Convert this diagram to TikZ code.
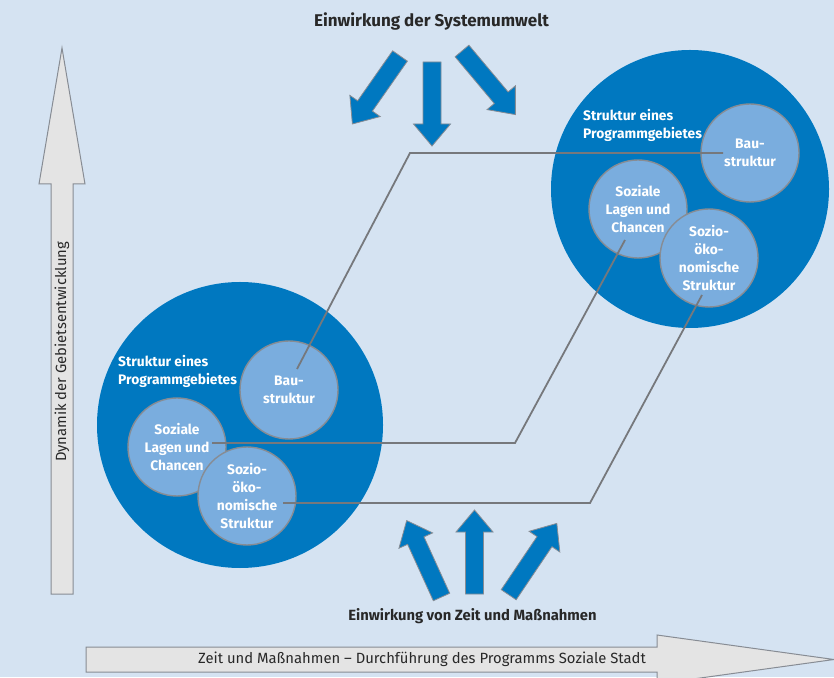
\documentclass[tikz,border=0pt]{standalone}
\usepackage{fontspec}
\setmainfont{Fira Sans}
\usepackage{tikz}
\usetikzlibrary{calc,positioning}
\definecolor{hintergrund}{RGB}{213,227,242}
\definecolor{dunkelblau}{RGB}{0,120,192}
\definecolor{hellblau}{RGB}{122,173,222}
\definecolor{rand}{RGB}{135,140,148}
\definecolor{linie}{RGB}{118,120,124}
\definecolor{grau}{RGB}{228,228,228}
\definecolor{schrift}{RGB}{40,40,40}
\tikzset{
  gebiet/.style={circle, fill=dunkelblau, inner sep=0pt},
  teil/.style={circle, fill=hellblau, draw=rand, line width=1.4pt, minimum size=98pt,
    inner sep=0pt, text=white, align=center, font=\fontsize{13.8}{18.3}\selectfont\bfseries},
  gebietstext/.style={text=white, align=left, inner sep=0pt, font=\fontsize{13.8}{18}\selectfont\bfseries},
  verbindung/.style={draw=linie, line width=1.8pt},
  pfeilblau/.style={fill=dunkelblau, draw=rand, line width=0.8pt},
  pfeilgrau/.style={fill=grau, draw=rand, line width=1pt},
  beschriftung/.style={text=schrift, inner sep=0pt, font=\fontsize{14.8}{16}\selectfont}
}
% blauer Wirkungspfeil: Ende, Winkel, Laenge
\newcommand{\wirkpfeil}[3]{%
  \begin{scope}[shift={(#1)}, rotate=#2]
    \draw[pfeilblau] (0,-9) -- ({#3-22},-9) -- ({#3-22},-18.5) -- (#3,0)
      -- ({#3-22},18.5) -- ({#3-22},9) -- (0,9) -- cycle;
  \end{scope}}
\begin{document}
\begin{tikzpicture}[x=1pt, y=1pt]
\useasboundingbox (0,0) rectangle (834,677);
\fill[hintergrund] (0,0) rectangle (834,677);
\clip (0,0) rectangle (834,677);

% Achsen
\draw[pfeilgrau] (51,83) -- (51,493) -- (39,493) -- (62,629) -- (85,493) -- (73,493) -- (73,83) -- cycle;
\draw[pfeilgrau] (86,5) -- (657,5) -- (657,-7) -- (834,17.5) -- (657,42) -- (657,30) -- (86,30) -- cycle;
\node[beschriftung, rotate=90] (dynamik) at (62,325) {Dynamik der Gebietsentwicklung};
\node[beschriftung] (zeitachse) at (422,17.5) {Zeit und Maßnahmen – Durchführung des Programms Soziale Stadt};

% Einwirkungen
\node[beschriftung, font=\fontsize{17}{18}\selectfont\bfseries] (umwelt) at (431.5,655) {Einwirkung der Systemumwelt};
\node[beschriftung, font=\fontsize{14.8}{16}\selectfont\bfseries] (massnahmen) at (472.5,61) {Einwirkung von Zeit und Maßnahmen};
\wirkpfeil{400,621}{235}{83}
\wirkpfeil{432,615}{270}{84}
\wirkpfeil{462,626}{-50}{83}
\wirkpfeil{441.5,80}{114.5}{84}
\wirkpfeil{474.5,83}{90}{84}
\wirkpfeil{508.7,82.3}{56}{86}

% Programmgebiet vorher
\node[gebiet, minimum size=286pt] (gebietA) at (240,252) {};
\node[gebietstext, anchor=west] (strukturA) at (118,306) {Struktur eines\\Programmgebietes};
\node[teil] (bauA) at (289,287) {Bau-\\struktur};
\node[teil] (lageA) at (177,230) {Soziale\\Lagen und\\Chancen};
\node[teil] (soziA) at (247,181) {Sozio-\\öko-\\nomische\\Struktur};

% Programmgebiet nachher
\node[gebiet, minimum size=278pt] (gebietB) at (690,488) {};
\node[gebietstext, anchor=west] (strukturB) at (583,551.5) {Struktur eines\\Programmgebietes};
\node[teil] (bauB) at (750,524) {Bau-\\struktur};
\node[teil] (lageB) at (638,468) {Soziale\\Lagen und\\Chancen};
\node[teil] (soziB) at (709,419) {Sozio-\\öko-\\nomische\\Struktur};

% Verbindungen
\coordinate (eckeBau) at (410,524);
\coordinate (eckeLage) at (515,234);
\coordinate (eckeSozi) at (590,174);
\draw[verbindung] ([shift={(8,21)}]bauA.center) -- (eckeBau) -- ([shift={(-27,0)}]bauB.center);
\draw[verbindung] ([shift={(35,4)}]lageA.center) -- (eckeLage) -- ([shift={(-13,-31)}]lageB.center);
\draw[verbindung] ([shift={(36,-7)}]soziA.center) -- (eckeSozi) -- ([shift={(-7,-37)}]soziB.center);
\end{tikzpicture}
\end{document}
